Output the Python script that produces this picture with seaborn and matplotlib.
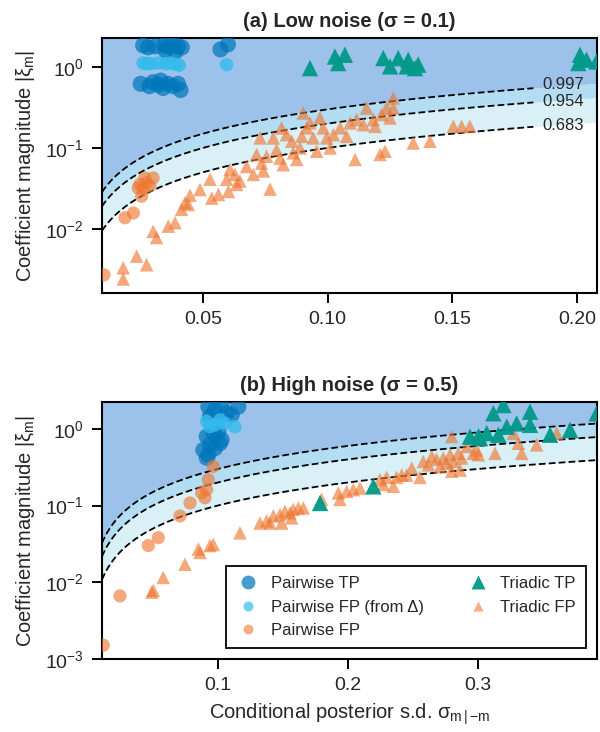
import numpy as np
import pandas as pd
import matplotlib
matplotlib.use("Agg")
import matplotlib.pyplot as plt
from matplotlib.lines import Line2D
import seaborn as sns

# ---------------- data: panel (a) low noise ----------------
a_ptp_x = [0.026, 0.028, 0.031, 0.0345, 0.036, 0.038, 0.040, 0.0415, 0.035, 0.039, 0.057, 0.060,
           0.025, 0.0285, 0.030, 0.032, 0.034, 0.036, 0.038, 0.040, 0.041, 0.033]
a_ptp_y = [1.85, 1.75, 1.80, 1.85, 1.80, 1.85, 1.80, 1.75, 1.60, 1.55, 1.65, 1.90,
           0.62, 0.58, 0.65, 0.60, 0.55, 0.62, 0.58, 0.62, 0.52, 0.68]
a_pfd_x = [0.026, 0.0275, 0.029, 0.032, 0.035, 0.037, 0.039, 0.0405, 0.0595]
a_pfd_y = [1.12, 1.10, 1.10, 1.12, 1.10, 1.12, 1.08, 1.05, 1.07]
a_pfp_x = [0.0267, 0.030, 0.0247, 0.026, 0.0287, 0.0254, 0.024, 0.0274, 0.0187, 0.0221, 0.0103]
a_pfp_y = [0.0426, 0.0426, 0.0355, 0.031, 0.034, 0.0253, 0.032, 0.037, 0.0137, 0.0157, 0.0027]
a_ttp_x = [0.0929, 0.1029, 0.1069, 0.1042, 0.1223, 0.125, 0.1283, 0.1317, 0.1323, 0.1363, 0.135,
           0.2012, 0.2005, 0.2038, 0.2078]
a_ttp_y = [0.97, 1.35, 1.42, 1.12, 1.29, 1.02, 1.29, 1.02, 1.23, 1.07, 0.97,
           1.42, 1.12, 1.23, 1.17]
a_tfp_x = [0.018, 0.018, 0.0234, 0.0274, 0.030, 0.0314, 0.0361, 0.0388, 0.0414, 0.0428, 0.0448,
           0.0441, 0.0488, 0.0528, 0.0535, 0.0562, 0.0602, 0.0595, 0.0608, 0.0628, 0.0635, 0.0648,
           0.0675, 0.0702, 0.0715, 0.0729, 0.0735, 0.0742, 0.0755, 0.0769, 0.0782, 0.0795, 0.0809,
           0.0815, 0.0822, 0.0835, 0.0856, 0.0862, 0.0876, 0.0889, 0.0896, 0.0902, 0.0916, 0.0929,
           0.0942, 0.0956, 0.0969, 0.0982, 0.0996, 0.101, 0.1023, 0.105, 0.1076, 0.109, 0.111,
           0.1116, 0.1143, 0.1156, 0.1183, 0.119, 0.121, 0.1216, 0.123, 0.1236, 0.125, 0.1263,
           0.1263, 0.1343, 0.141, 0.1504, 0.1537, 0.157]
a_tfp_y = [0.0033, 0.0024, 0.0046, 0.0036, 0.0093, 0.0078, 0.0108, 0.0119, 0.0174, 0.021, 0.026,
           0.020, 0.0306, 0.041, 0.024, 0.0266, 0.029, 0.041, 0.054, 0.047, 0.0354, 0.039,
           0.059, 0.047, 0.083, 0.133, 0.065, 0.052, 0.079, 0.031, 0.133, 0.095, 0.075,
           0.177, 0.062, 0.146, 0.121, 0.087, 0.072, 0.100, 0.139, 0.27, 0.177, 0.204,
           0.133, 0.091, 0.235, 0.177, 0.133, 0.100, 0.146, 0.177, 0.139, 0.204, 0.072,
           0.224, 0.194, 0.312, 0.224, 0.185, 0.083, 0.258, 0.091, 0.312, 0.235, 0.414,
           0.312, 0.115, 0.121, 0.185, 0.185, 0.185]

# ---------------- data: panel (b) high noise ----------------
b_ptp_x = [0.0926, 0.0977, 0.1028, 0.1105, 0.1156, 0.0938, 0.099, 0.1067, 0.0913, 0.0964,
           0.1003, 0.1015, 0.0938, 0.0887, 0.0926, 0.0977, 0.1028, 0.0913]
b_ptp_y = [1.95, 1.77, 2.05, 1.52, 1.95, 1.45, 1.31, 1.60, 0.795, 0.88,
           0.92, 0.65, 0.62, 0.53, 0.46, 0.56, 0.72, 0.42]
b_pfd_x = [0.0913, 0.0977, 0.1054, 0.113, 0.0938, 0.1015]
b_pfd_y = [1.25, 1.13, 1.18, 1.07, 1.07, 1.31]
b_pfp_x = [0.0964, 0.0926, 0.0913, 0.0874, 0.090, 0.0785, 0.0708, 0.0541, 0.0464, 0.0246, 0.0118]
b_pfp_y = [0.324, 0.218, 0.161, 0.146, 0.126, 0.108, 0.073, 0.038, 0.030, 0.0066, 0.0015]
b_ttp_x = [0.1785, 0.2195, 0.2938, 0.3015, 0.3067, 0.3156, 0.3118, 0.3195, 0.3221, 0.3297,
           0.340, 0.340, 0.3554, 0.3708, 0.3913, 0.3003]
b_ttp_y = [0.108, 0.178, 0.795, 0.76, 0.88, 0.84, 1.60, 2.05, 1.07, 1.18,
           1.68, 1.13, 0.84, 0.97, 1.60, 0.80]
b_tfp_x = [0.049, 0.0503, 0.0579, 0.0746, 0.0862, 0.0849, 0.0938, 0.0964, 0.1169, 0.1323,
           0.1374, 0.140, 0.1426, 0.1477, 0.1515, 0.1554, 0.1579, 0.1618, 0.1656, 0.1567,
           0.149, 0.1797, 0.1926, 0.1938, 0.199, 0.2041, 0.2092, 0.2246, 0.2272, 0.2297,
           0.2349, 0.2374, 0.2413, 0.2451, 0.249, 0.2554, 0.2579, 0.2618, 0.2644, 0.2682,
           0.2708, 0.2733, 0.2759, 0.2785, 0.281, 0.2797, 0.2849, 0.2874, 0.2797, 0.2913,
           0.2964, 0.299, 0.3003, 0.3131, 0.3272, 0.331, 0.3336, 0.3451, 0.3605, 0.2862]
b_tfp_y = [0.0074, 0.0078, 0.0115, 0.0171, 0.0244, 0.027, 0.030, 0.031, 0.044, 0.059,
           0.063, 0.059, 0.073, 0.076, 0.084, 0.080, 0.089, 0.093, 0.093, 0.069,
           0.059, 0.12, 0.146, 0.12, 0.153, 0.161, 0.169, 0.218, 0.188, 0.233,
           0.178, 0.233, 0.25, 0.25, 0.308, 0.233, 0.376, 0.34, 0.437, 0.40,
           0.32, 0.416, 0.357, 0.46, 0.376, 0.28, 0.48, 0.416, 0.795, 0.59,
           0.48, 0.53, 0.46, 0.48, 0.88, 0.65, 0.48, 0.62, 0.88, 0.29]

# credible-band multipliers (|xi| = k * sigma) and their labels
band_k = [1.0, 2.0, 3.0]
band_labels = ["0.683", "0.954", "0.997"]

panels = [
    dict(title="(a) Low noise (σ = 0.1)", xlim=(0.0095, 0.208), ylim=(0.00162, 2.28),
         xticks=[0.05, 0.10, 0.15, 0.20], xticklabels=["0.05", "0.10", "0.15", "0.20"],
         ptp=(a_ptp_x, a_ptp_y), pfd=(a_pfd_x, a_pfd_y), pfp=(a_pfp_x, a_pfp_y),
         ttp=(a_ttp_x, a_ttp_y), tfp=(a_tfp_x, a_tfp_y), line_end=0.1825, labels=True,
         rect=[0.17, 0.600, 0.825, 0.348]),
    dict(title="(b) High noise (σ = 0.5)", xlim=(0.0108, 0.3915), ylim=(0.00099, 2.24),
         xticks=[0.1, 0.2, 0.3], xticklabels=["0.1", "0.2", "0.3"],
         ptp=(b_ptp_x, b_ptp_y), pfd=(b_pfd_x, b_pfd_y), pfp=(b_pfp_x, b_pfp_y),
         ttp=(b_ttp_x, b_ttp_y), tfp=(b_tfp_x, b_tfp_y), line_end=None, labels=False,
         rect=[0.17, 0.0997, 0.825, 0.351]),
]

sns.set_style("ticks")
plt.rcParams["font.family"] = ["Liberation Sans", "DejaVu Sans"]
plt.rcParams["mathtext.fontset"] = "custom"
plt.rcParams["mathtext.rm"] = "Liberation Sans"
plt.rcParams["mathtext.it"] = "Liberation Sans:italic"
plt.rcParams["mathtext.bf"] = "Liberation Sans:bold"
plt.rcParams["axes.unicode_minus"] = True

C_PTP = "#0077BB"
C_PFD = "#33BBEE"
C_ORG = "#EE7733"
C_TTP = "#009988"
FILL_TOP = "#9cc2ec"
FILL_MID = "#b3ddf2"
FILL_LOW = "#d8f0f6"

fig = plt.figure(figsize=(6.0, 7.32), dpi=100)

for p in panels:
    ax = fig.add_axes(p["rect"])
    ax.set_yscale("log")
    x0, x1 = p["xlim"]
    y0, y1 = p["ylim"]
    xg = np.linspace(x0, x1, 400)
    k1, k2, k3 = band_k
    ax.fill_between(xg, k3 * xg, y1, color=FILL_TOP, lw=0, zorder=0)
    ax.fill_between(xg, k2 * xg, k3 * xg, color=FILL_MID, lw=0, zorder=0)
    ax.fill_between(xg, k1 * xg, k2 * xg, color=FILL_LOW, lw=0, zorder=0)
    xe = p["line_end"] if p["line_end"] else x1
    xl = np.linspace(x0, xe, 300)
    for k in band_k:
        ax.plot(xl, k * xl, color="black", ls=(0, (3.7, 1.8)), lw=1.3, zorder=1)
    if p["labels"]:
        xt = 0.186
        for k, lab, f in zip(band_k, band_labels, [1.03, 1.0, 1.1]):
            ax.text(xt, k * xt * f, lab, fontsize=12, ha="left", va="center", zorder=5)

    groups = [
        (p["ptp"], "o", 135, C_PTP, 0.72),
        (p["pfd"], "o", 95, C_PFD, 0.8),
        (p["pfp"], "o", 90, C_ORG, 0.64),
        (p["tfp"], "^", 95, C_ORG, 0.64),
        (p["ttp"], "^", 140, C_TTP, 0.95),
    ]
    for (xs, ys), m, s, c, a in groups:
        df = pd.DataFrame({"x": xs, "y": ys})
        sns.scatterplot(data=df, x="x", y="y", ax=ax, marker=m, s=s, color=c, alpha=a,
                        edgecolor="none", linewidth=0, zorder=3, legend=False)

    ax.set_xlim(x0, x1)
    ax.set_ylim(y0, y1)
    ax.set_xticks(p["xticks"])
    ax.set_xticklabels(p["xticklabels"])
    ax.yaxis.set_minor_locator(matplotlib.ticker.NullLocator())
    ax.tick_params(axis="both", which="major", length=7, width=1.4, pad=6, labelsize=14,
                   direction="out", color="black")
    for sp in ax.spines.values():
        sp.set_linewidth(1.5)
        sp.set_color("black")
        sp.set_visible(True)
    ax.set_title(p["title"], fontsize=14.5, fontweight="bold", pad=8)
    ax.set_ylabel("Coefficient magnitude |ξ$_{\\mathrm{m}}$|", fontsize=14.5, labelpad=6)
    ax.set_xlabel("")
    last_ax = ax

last_ax.set_xlabel("Conditional posterior s.d. σ$_{\\mathrm{m\\,|\\,{-}m}}$", fontsize=14.5, labelpad=5)

handles = [
    Line2D([], [], ls="none", marker="o", ms=10, color=C_PTP, alpha=0.72, mec="none"),
    Line2D([], [], ls="none", marker="o", ms=7.2, color=C_PFD, alpha=0.7, mec="none"),
    Line2D([], [], ls="none", marker="o", ms=7.2, color=C_ORG, alpha=0.6, mec="none"),
    Line2D([], [], ls="none", marker="^", ms=10, color=C_TTP, alpha=0.95, mec="none"),
    Line2D([], [], ls="none", marker="^", ms=7.5, color=C_ORG, alpha=0.6, mec="none"),
]
labels = ["Pairwise TP", "Pairwise FP (from Δ)", "Pairwise FP", "Triadic TP", "Triadic FP"]
leg = last_ax.legend(handles, labels, ncol=2, loc="lower right", bbox_to_anchor=(0.978, 0.043),
                     borderaxespad=0, fontsize=12, frameon=True, fancybox=False, framealpha=1,
                     edgecolor="black", borderpad=0.6, handlelength=1.5, handletextpad=0.6,
                     columnspacing=2.5, labelspacing=0.5)
leg.get_frame().set_linewidth(1.3)
leg.set_zorder(10)

fig.savefig("out.png", dpi=100)
